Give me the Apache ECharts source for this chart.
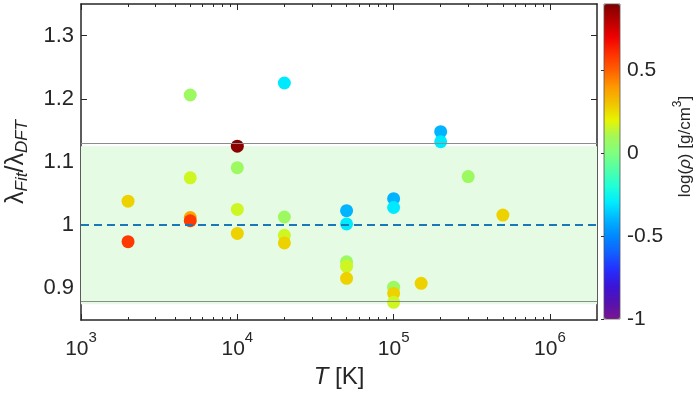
<!DOCTYPE html>
<html>
<head>
<meta charset="utf-8">
<script src="https://cdn.jsdelivr.net/npm/echarts@6/dist/echarts.min.js"></script>
<style>
html,body{margin:0;padding:0;background:#fff;}
#main{width:700px;height:398px;}
</style>
</head>
<body>
<div id="main"></div>
<script>
// temperatures [K], fit/DFT ratio, log(rho) [g/cm3]
var temps  = [2000, 2000,
              5000, 5000, 5000, 5000,
              10000, 10000, 10000, 10000,
              20000, 20000, 20000, 20000,
              50000, 50000, 50000, 50000, 50000,
              100000, 100000, 100000, 100000, 100000,
              150000, 200000, 200000, 300000, 500000];
var ratios = [1.038, 0.974,
              1.206, 1.075, 1.012, 1.007,
              1.125, 1.091, 1.025, 0.987,
              1.225, 1.013, 0.984, 0.972,
              1.023, 1.002, 0.942, 0.935, 0.916,
              1.042, 1.028, 0.902, 0.892, 0.878,
              0.908, 1.148, 1.132, 1.077, 1.016];
var logRho = [0.27, 0.58,
              0.08, 0.16, 0.36, 0.58,
              0.88, 0.08, 0.16, 0.27,
              -0.30, 0.08, 0.16, 0.27,
              -0.40, -0.30, 0.08, 0.16, 0.27,
              -0.40, -0.30, 0.08, 0.27, 0.16,
              0.27, -0.40, -0.30, 0.08, 0.27];

var xMajorTicks = [1e3, 1e4, 1e5, 1e6];
var xMinorTicks = [2e3,3e3,4e3,5e3,6e3,7e3,8e3,9e3,
                   2e4,3e4,4e4,5e4,6e4,7e4,8e4,9e4,
                   2e5,3e5,4e5,5e5,6e5,7e5,8e5,9e5];
var yTicks = [0.9, 1, 1.1, 1.2, 1.3];
var cbTicks = [-1, -0.5, 0, 0.5];
var bandLow = 0.875, bandHigh = 1.125, refLine = 1;

// jet-like map, evenly spaced from -1 to 0.9
var cmap = ['#7a1490','#5512b0','#3a14d8','#2430ff','#1260ff','#0088ff','#00b4ff',
            '#00eaff','#20ffd8','#50ffa8','#80ff80','#a4f858','#e8f400','#f0c400',
            '#ff9800','#ff6000','#ff3000','#f00000','#b80000','#800000'];

var pts = [];
for (var i = 0; i < temps.length; i++) {
    pts.push([temps[i], ratios[i], logRho[i]]);
}

var txt = '#262626';
var font = 'Liberation Sans, Arial, sans-serif';

var myChart = echarts.init(document.getElementById('main'));
myChart.setOption({
    animation: false,
    textStyle: {fontFamily: font, color: txt},
    grid: [
        {left: 81, top: 4, width: 516, height: 316, outerBoundsMode: 'none', containLabel: false},
        {left: 604, top: 4, width: 16, height: 315, show: true, z: 10, outerBoundsMode: 'none', containLabel: false,
         backgroundColor: 'transparent', borderColor: '#555', borderWidth: 0.8}
    ],
    xAxis: [
        {//主刻度+标签
            gridIndex: 0, type: 'log', logBase: 10, min: 1000, max: 2e6, position: 'bottom',
            axisLine: {lineStyle: {color: txt, width: 1.5}},
            axisTick: {inside: true, length: 6, customValues: xMajorTicks, lineStyle: {color: txt}},
            axisLabel: {
                customValues: xMajorTicks, margin: 10, color: txt,
                formatter: function (v) {
                    return '{b|10}{s|' + Math.round(Math.log10(v)) + '}';
                },
                rich: {
                    b: {fontSize: 21, lineHeight: 30, verticalAlign: 'bottom', fontFamily: font, color: txt},
                    s: {fontSize: 15, lineHeight: 16, verticalAlign: 'top', fontFamily: font, color: txt}
                }
            },
            splitLine: {show: false},
            name: '{i|T}{n| [K]}', nameLocation: 'middle', nameGap: 44,
            nameTextStyle: {
                rich: {
                    i: {fontSize: 24, fontStyle: 'italic', fontFamily: font, color: txt},
                    n: {fontSize: 24, fontFamily: font, color: txt}
                }
            }
        },
        {//次刻度
            gridIndex: 0, type: 'log', logBase: 10, min: 1000, max: 2e6, position: 'bottom',
            axisLine: {show: false},
            axisTick: {inside: true, length: 3, customValues: xMinorTicks, lineStyle: {color: txt}},
            axisLabel: {show: false}, splitLine: {show: false}
        },
        {
            gridIndex: 0, type: 'log', logBase: 10, min: 1000, max: 2e6, position: 'top',
            axisLine: {lineStyle: {color: txt, width: 1.5}},
            axisTick: {inside: true, length: 6, customValues: xMajorTicks, lineStyle: {color: txt}},
            axisLabel: {show: false}, splitLine: {show: false}
        },
        {
            gridIndex: 0, type: 'log', logBase: 10, min: 1000, max: 2e6, position: 'top',
            axisLine: {show: false},
            axisTick: {inside: true, length: 3, customValues: xMinorTicks, lineStyle: {color: txt}},
            axisLabel: {show: false}, splitLine: {show: false}
        },
        {gridIndex: 1, type: 'value', min: 0, max: 1, show: false}
    ],
    yAxis: [
        {
            gridIndex: 0, type: 'value', min: 0.85, max: 1.35, position: 'left',
            axisLine: {show: true, lineStyle: {color: txt, width: 1.5}},
            axisTick: {show: true, inside: true, length: 6, customValues: yTicks, lineStyle: {color: txt}},
            axisLabel: {customValues: yTicks, margin: 7, fontSize: 22, color: txt, fontFamily: font},
            splitLine: {show: false},
            name: '{n|λ}{sub|Fit}{n|/λ}{sub|DFT}', nameLocation: 'middle', nameGap: 50,
            nameTextStyle: {
                rich: {
                    n: {fontSize: 25, lineHeight: 30, fontFamily: font, color: txt},
                    sub: {fontSize: 17, lineHeight: 18, verticalAlign: 'bottom', fontStyle: 'italic', fontFamily: font, color: txt}
                }
            }
        },
        {
            gridIndex: 0, type: 'value', min: 0.85, max: 1.35, position: 'right',
            axisLine: {show: true, lineStyle: {color: txt, width: 1.5}},
            axisTick: {show: true, inside: true, length: 6, customValues: yTicks, lineStyle: {color: txt}},
            axisLabel: {show: false}, splitLine: {show: false}
        },
        {//色标轴
            gridIndex: 1, type: 'value', min: -1, max: 0.9, position: 'right', z: 10,
            axisLine: {show: false},
            axisTick: {show: true, inside: true, length: 3, customValues: cbTicks, lineStyle: {color: '#333'}},
            axisLabel: {customValues: cbTicks, margin: 7, fontSize: 21, color: txt, fontFamily: font},
            splitLine: {show: false},
            name: '{sp| }{t|log(}{i|ρ}{t|) [g/cm}{s|3}{t|]}', nameLocation: 'middle', nameGap: 52,
            nameTextStyle: {
                rich: {
                    sp: {width: 30, fontSize: 17, lineHeight: 22, align: 'left'},
                    t: {fontSize: 17, lineHeight: 22, verticalAlign: 'bottom', fontFamily: font, color: txt},
                    i: {fontSize: 17, lineHeight: 22, verticalAlign: 'bottom', fontStyle: 'italic', fontFamily: font, color: txt},
                    s: {fontSize: 12, lineHeight: 12, verticalAlign: 'top', fontFamily: font, color: txt}
                }
            }
        }
    ],
    visualMap: {
        type: 'continuous', seriesIndex: 1, dimension: 2,
        min: -1, max: 0.9, inRange: {color: cmap},
        left: 604, top: 4, itemWidth: 16, itemHeight: 315, padding: 0,
        calculable: false, hoverLink: false, text: null
    },
    series: [
        {
            type: 'line', data: [], xAxisIndex: 0, yAxisIndex: 0, z: 1, silent: true,
            markArea: {
                silent: true,
                itemStyle: {color: '#e5fbe4'},
                data: [[{yAxis: bandLow}, {yAxis: bandHigh}]]
            },
            markLine: {
                silent: true, symbol: 'none', label: {show: false},
                data: [
                    {yAxis: bandLow, lineStyle: {color: '#8c8c8c', width: 1, type: 'solid'}},
                    {yAxis: bandHigh, lineStyle: {color: '#8c8c8c', width: 1, type: 'solid'}},
                    {yAxis: refLine, lineStyle: {color: '#1a78b8', width: 2, type: [8, 5]}}
                ]
            }
        },
        {
            type: 'scatter', data: pts, xAxisIndex: 0, yAxisIndex: 0, z: 3,
            symbol: 'circle', symbolSize: 13, itemStyle: {opacity: 1}
        }
    ]
});
</script>
</body>
</html>
